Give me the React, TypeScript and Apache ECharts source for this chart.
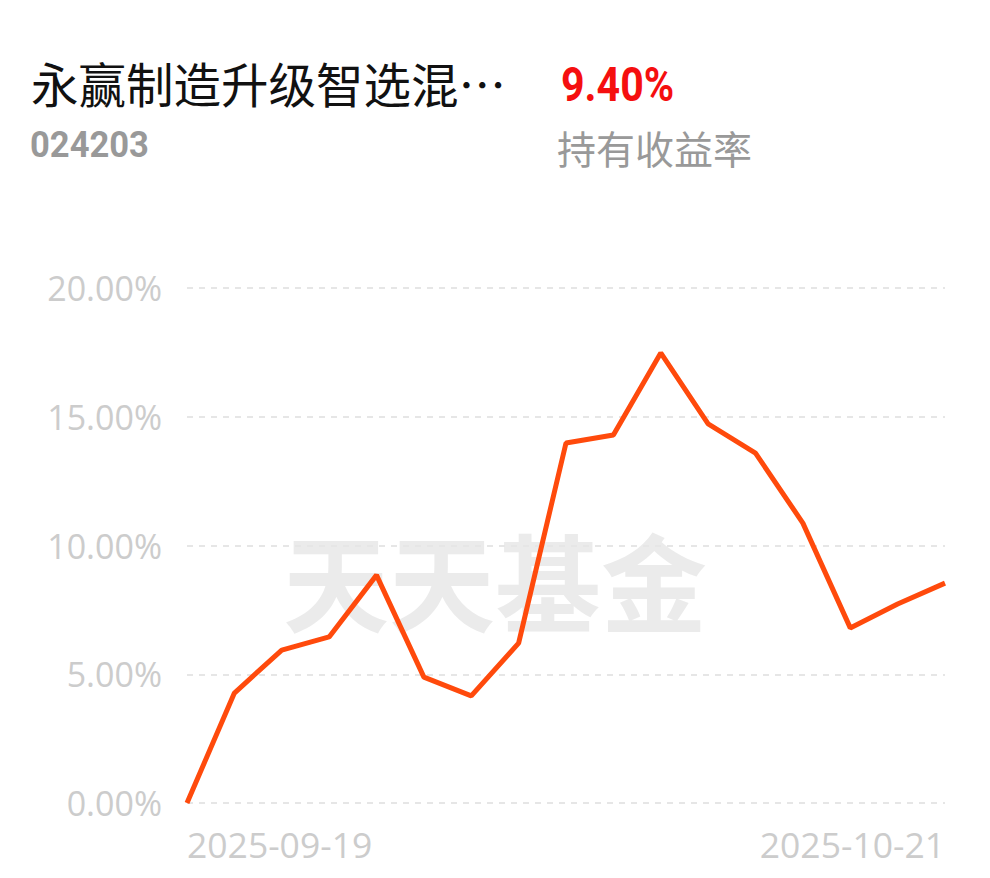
import React, { useEffect, useRef } from "react";
import * as echarts from "echarts";

const dates = [
  "2025-09-19", "2025-09-22", "2025-09-23", "2025-09-24", "2025-09-25", "2025-09-26",
  "2025-09-29", "2025-09-30", "2025-10-09", "2025-10-10", "2025-10-13", "2025-10-14",
  "2025-10-15", "2025-10-16", "2025-10-17", "2025-10-20", "2025-10-21",
];
const returns = [
  0, 4.27, 5.94, 6.45, 8.85, 4.89, 4.16, 6.21, 13.98, 14.29, 17.48, 14.72, 13.59,
  10.87, 6.8, 7.73, 8.54,
];
const fundName = "永赢制造升级智选混…";
const fundCode = "024203";
const holdReturn = "9.40%";
const holdLabel = "持有收益率";
const watermark = "天天基金";

export default function App() {
  const ref = useRef<HTMLDivElement>(null);
  useEffect(() => {
    if (!ref.current) return;
    const chart = echarts.init(ref.current, null, { renderer: "svg" });
    const cjk = '"Noto Sans CJK SC", "Noto Sans", sans-serif';
    const num = '"Open Sans", sans-serif';
    chart.setOption({
      animation: false,
      backgroundColor: "#ffffff",
      graphic: [
        {
          type: "text", x: 31, y: 59, z: 10,
          style: { text: fundName, fontSize: 47.5, fill: "#111", fontFamily: cjk, verticalAlign: "top", textVerticalAlign: "top" },
        },
        {
          type: "text", x: 30, y: 127, z: 10, scaleX: 0.96,
          style: { text: fundCode, fontSize: 36, fontWeight: "bold", fill: "#999", fontFamily: "Roboto, sans-serif", verticalAlign: "top", textVerticalAlign: "top" },
        },
        {
          type: "text", x: 561, y: 60, z: 10, scaleX: 0.84,
          style: { text: holdReturn, fontSize: 49, fontWeight: "bold", fill: "#f50f0f", fontFamily: "Roboto, sans-serif", verticalAlign: "top", textVerticalAlign: "top" },
        },
        {
          type: "text", x: 557, y: 127, z: 10,
          style: { text: holdLabel, fontSize: 39, fill: "#999", fontFamily: cjk, verticalAlign: "top", textVerticalAlign: "top" },
        },
        {
          type: "text", left: 283, top: 525, z: 0,
          style: { text: watermark, fontSize: 106, fontWeight: "bold", fill: "#ebebeb", fontFamily: cjk },
        },
      ],
      grid: { left: 187, right: 45, top: 288, bottom: 75 },
      xAxis: {
        type: "category",
        data: dates,
        boundaryGap: false,
        axisLine: { show: false },
        axisTick: { show: false },
        axisLabel: {
          interval: (i: number) => i === 0 || i === dates.length - 1,
          alignMinLabel: "left",
          alignMaxLabel: "right",
          color: "#cccccc",
          fontSize: 35.5,
          margin: 23,
          fontFamily: num,
        },
      },
      yAxis: {
        type: "value",
        min: 0,
        max: 20,
        interval: 5,
        axisLine: { show: false },
        axisTick: { show: false },
        axisLabel: {
          formatter: (v: number) => v.toFixed(2) + "%",
          color: "#cccccc",
          fontSize: 34,
          margin: 25,
          fontFamily: num,
        },
        splitLine: { lineStyle: { color: "#e6e6e6", type: [6, 6], width: 2 } },
      },
      series: [
        {
          type: "line",
          data: returns,
          symbol: "none",
          lineStyle: { color: "#ff4a0c", width: 5 },
          z: 5,
        },
      ],
    });
    return () => chart.dispose();
  }, []);
  return <div ref={ref} style={{ position: "fixed", left: 0, top: 0, width: 990, height: 878 }} />;
}
